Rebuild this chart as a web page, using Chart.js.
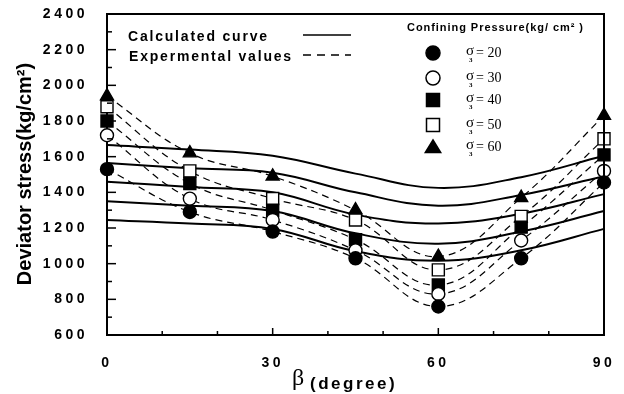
<!DOCTYPE html>
<html>
<head>
<meta charset="utf-8">
<script src="https://cdn.jsdelivr.net/npm/chart.js@4.4.0/dist/chart.umd.min.js"></script>
<style>
    html, body { margin: 0; padding: 0; background: #fff; }
    #wrap { width: 624px; height: 394px; }
</style>
</head>
<body>
<div id="wrap"><canvas id="stressChart"></canvas></div>
<script>
// beta angles (degree)
const angles = [0, 15, 30, 45, 60, 75, 90];
const pressures = [20, 30, 40, 50, 60];

// experimental values, kg/cm2, one list per confining pressure
const exp20 = [1530, 1290, 1180, 1030, 760, 1030, 1455];
const exp30 = [1720, 1365, 1245, 1075, 830, 1130, 1520];
const exp40 = [1800, 1450, 1300, 1135, 880, 1205, 1610];
const exp50 = [1880, 1520, 1365, 1245, 965, 1265, 1700];
const exp60 = [1940, 1620, 1490, 1300, 1040, 1370, 1830];

// calculated curves
const calc20 = [1245, 1225, 1195, 1070, 1017, 1075, 1195];
const calc30 = [1350, 1325, 1295, 1170, 1112, 1180, 1295];
const calc40 = [1460, 1430, 1400, 1275, 1225, 1280, 1390];
const calc50 = [1565, 1535, 1510, 1400, 1325, 1385, 1490];
const calc60 = [1665, 1640, 1605, 1505, 1425, 1485, 1605];

const yTickValues = [600, 800, 1000, 1200, 1400, 1600, 1800, 2000, 2200, 2400];
const xTickValues = [0, 30, 60, 90];

const expSeries = [exp20, exp30, exp40, exp50, exp60];
const calcSeries = [calc20, calc30, calc40, calc50, calc60];
const markerStyles = ['circle', 'circle', 'rect', 'rect', 'triangle'];
const markerFills = ['#000', '#fff', '#000', '#fff', '#000'];
const markerRadius = [6.5, 6.5, 8.5, 8.5, 7.5];

const FONT = "'Liberation Sans', Arial, sans-serif";
const SERIF = "'Liberation Serif', 'Times New Roman', serif";

const toPoints = vals => angles.map((a, i) => ({ x: a, y: vals[i] }));

const datasets = [];
pressures.forEach((p, i) => {
    datasets.push({
        label: 'sigma3 = ' + p,
        data: toPoints(expSeries[i]),
        borderColor: '#000',
        borderWidth: 1.2,
        borderDash: [7, 5],
        tension: 0.4,
        pointStyle: markerStyles[i],
        pointRadius: markerRadius[i],
        pointBackgroundColor: markerFills[i],
        pointBorderColor: '#000',
        pointBorderWidth: 1.4,
        clip: false
    });
});
pressures.forEach((p, i) => {
    datasets.push({
        label: 'calc ' + p,
        data: toPoints(calcSeries[i]),
        borderColor: '#000',
        borderWidth: 2,
        tension: 0.4,
        pointRadius: 0,
        clip: false
    });
});

function drawMarker(ctx, style, x, y, size, fill) {
    ctx.beginPath();
    if (style === 'circle') {
        ctx.arc(x, y, size / 2, 0, Math.PI * 2);
    } else if (style === 'rect') {
        ctx.rect(x - size / 2, y - size / 2, size, size);
    } else {
        ctx.moveTo(x, y - size * 0.5);
        ctx.lineTo(x + size * 0.55, y + size * 0.4);
        ctx.lineTo(x - size * 0.55, y + size * 0.4);
        ctx.closePath();
    }
    ctx.fillStyle = fill;
    ctx.fill();
    ctx.lineWidth = 1.5;
    ctx.strokeStyle = '#000';
    ctx.stroke();
    ctx.fillStyle = '#000';
}

const decorations = {
    id: 'decorations',
    beforeDraw(chart) {
        chart.ctx.letterSpacing = '3.5px';
    },
    afterDraw(chart) {
        const ctx = chart.ctx;
        const area = chart.chartArea;
        const xs = chart.scales.x;
        const ys = chart.scales.y;
        ctx.save();
        ctx.letterSpacing = '0px';
        ctx.strokeStyle = '#000';
        ctx.fillStyle = '#000';

        // top and right frame
        ctx.lineWidth = 2;
        ctx.beginPath();
        ctx.moveTo(area.left, area.top);
        ctx.lineTo(area.right, area.top);
        ctx.lineTo(area.right, area.bottom);
        ctx.stroke();

        // inward tick marks
        ctx.lineWidth = 1.5;
        for (let v = 600; v <= 2400; v += 100) {
            const y = ys.getPixelForValue(v);
            const len = v % 200 === 0 ? 9 : 5;
            ctx.beginPath();
            ctx.moveTo(area.left, y);
            ctx.lineTo(area.left + len, y);
            ctx.stroke();
        }
        for (let v = 0; v <= 90; v += 10) {
            const x = xs.getPixelForValue(v);
            const len = v % 30 === 0 ? 7 : 4;
            ctx.beginPath();
            ctx.moveTo(x, area.bottom);
            ctx.lineTo(x, area.bottom - len);
            ctx.stroke();
        }

        // axis titles
        ctx.save();
        ctx.translate(25, 174);
        ctx.rotate(-Math.PI / 2);
        ctx.textAlign = 'center';
        ctx.textBaseline = 'middle';
        ctx.font = 'bold 20px ' + FONT;
        ctx.fillText('Deviator stress(kg/cm\u00B2)', 0, 0);
        ctx.restore();

        ctx.textAlign = 'left';
        ctx.textBaseline = 'alphabetic';
        ctx.font = '24px ' + SERIF;
        ctx.fillText('\u03B2', 292, 385);
        ctx.font = 'bold 17px ' + FONT;
        ctx.letterSpacing = '2.5px';
        ctx.fillText('(degree)', 310, 389);

        // legend for line types
        ctx.font = 'bold 14px ' + FONT;
        ctx.letterSpacing = '1.8px';
        ctx.fillText('Calculated curve', 128, 41);
        ctx.fillText('Expermental values', 129, 61);
        ctx.letterSpacing = '0px';
        ctx.lineWidth = 1.5;
        ctx.beginPath();
        ctx.moveTo(303, 35);
        ctx.lineTo(351, 35);
        ctx.stroke();
        ctx.setLineDash([8, 6]);
        ctx.beginPath();
        ctx.moveTo(303, 55);
        ctx.lineTo(351, 55);
        ctx.stroke();
        ctx.setLineDash([]);

        // legend for confining pressure
        ctx.font = 'bold 11px ' + FONT;
        const head = 'Confining Pressure(kg/ cm\u00B2 )';
        const w = ctx.measureText(head).width;
        ctx.letterSpacing = ((176 - w) / (head.length - 1)).toFixed(2) + 'px';
        ctx.fillText(head, 407, 31);
        ctx.letterSpacing = '0px';

        const rowY = [53, 78, 100, 125, 147];
        const rowSize = [14, 14, 13, 13, 14];
        pressures.forEach((p, i) => {
            const y = rowY[i];
            drawMarker(ctx, markerStyles[i], 433, y, rowSize[i], markerFills[i]);
            ctx.fillStyle = '#000';
            ctx.font = '15px ' + SERIF;
            ctx.fillText('\u03C3', 466, y + 2);
            ctx.font = 'bold 7px ' + SERIF;
            ctx.fillText('3', 469, y + 9);
            ctx.font = '14px ' + SERIF;
            ctx.fillText('= ' + p, 476, y + 4);
        });
        ctx.restore();
        ctx.letterSpacing = '0px';
    }
};

new Chart(document.getElementById('stressChart').getContext('2d'), {
    type: 'line',
    data: { datasets },
    options: {
        responsive: true,
        maintainAspectRatio: false,
        animation: false,
        events: [],
        layout: { padding: { top: 14, right: 20, left: 0, bottom: 0 } },
        plugins: {
            legend: { display: false },
            tooltip: { enabled: false }
        },
        scales: {
            x: {
                type: 'linear',
                min: 0,
                max: 90,
                afterBuildTicks: scale => {
                    scale.ticks = xTickValues.map(v => ({ value: v }));
                },
                afterFit: scale => {
                    scale.height = 59;
                    scale.paddingLeft = 0;
                    scale.paddingRight = 0;
                },
                ticks: {
                    color: '#000',
                    font: { family: FONT, size: 14, weight: 'bold' },
                    padding: 12,
                    callback: v => String(v)
                },
                grid: { display: false },
                border: { display: true, color: '#000', width: 2 }
            },
            y: {
                min: 600,
                max: 2400,
                afterBuildTicks: scale => {
                    scale.ticks = yTickValues.map(v => ({ value: v }));
                },
                afterFit: scale => {
                    scale.width = 107;
                    scale.paddingTop = 0;
                    scale.paddingBottom = 0;
                },
                ticks: {
                    color: '#000',
                    font: { family: FONT, size: 14, weight: 'bold' },
                    padding: 11,
                    callback: v => String(v)
                },
                grid: { display: false },
                border: { display: true, color: '#000', width: 2 }
            }
        }
    },
    plugins: [decorations]
});
</script>
</body>
</html>
